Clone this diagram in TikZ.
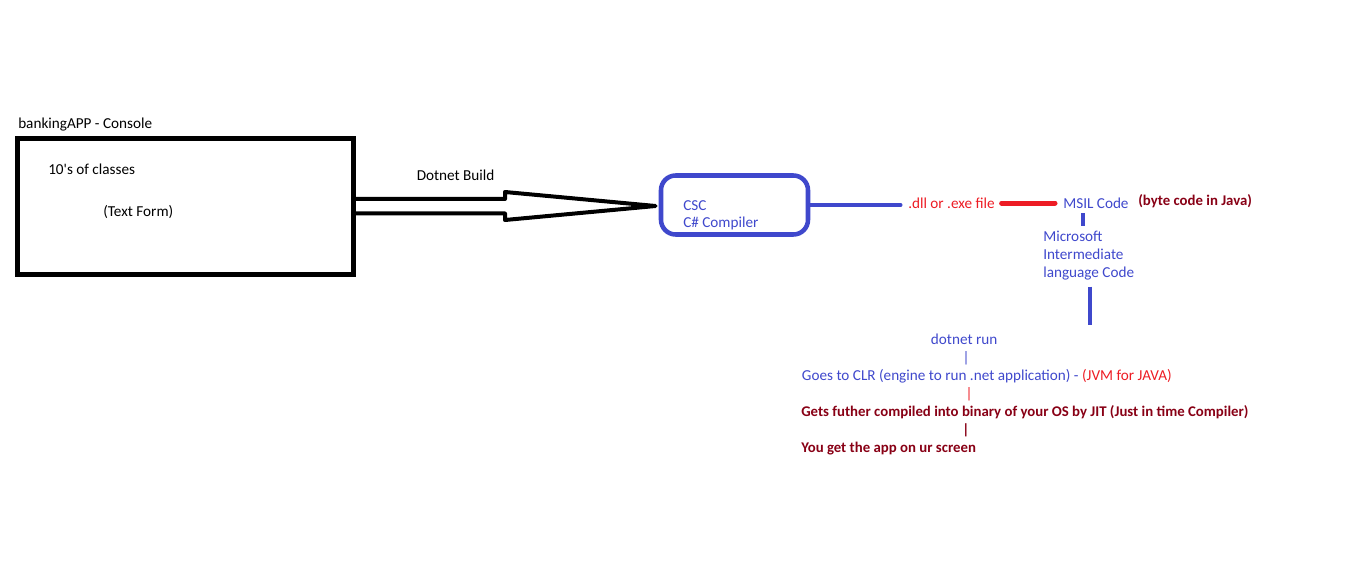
\documentclass[tikz,border=0pt]{standalone}
\usepackage{fontspec}
\setmainfont{Carlito}[Ligatures=TeXOff]
\usepackage{tikz}
\definecolor{paintblue}{HTML}{3F48CC}
\definecolor{paintred}{HTML}{ED1C24}
\definecolor{paintdark}{HTML}{880015}

\begin{document}
\begin{tikzpicture}[x=0.75pt,y=-0.75pt,
		txt/.style={inner sep=0pt,anchor=base west,font=\fontsize{11.4}{13.5}\selectfont},
		bluetxt/.style={txt,text=paintblue},
		redtxt/.style={txt,text=paintred},
		darktxt/.style={txt,text=paintdark,font=\fontsize{11.1}{13.5}\selectfont\bfseries},
		pipe/.style={anchor=base},
		wire/.style={line width=3.4pt,line cap=round,paintblue}]
	\useasboundingbox (0,0) rectangle (1360,563);
	% source project
	\node[txt] (title) at (18,128.3) {bankingAPP - Console};
	\node (app) [draw,line width=3.4pt,inner sep=0pt,minimum width=252pt,minimum height=102pt] at (185.5,206.5) {};
	\node[txt] (classes) at (48,175) {10's of classes};
	\node[txt] (textform) at (103,216) {(Text Form)};
	% compiler
	\node (csc) [draw=paintblue,line width=3.4pt,rounded corners=11pt,inner sep=0pt,minimum width=110.25pt,minimum height=44.25pt] at (734.5,205) {};
	\node[bluetxt] (csc1) at (683,210) {CSC};
	\node[bluetxt] (csc2) at (683,228) {C\# Compiler};
	\node[txt] (build) at (416.5,180.5) {Dotnet Build};
	\draw[line width=3pt,line join=round] (app.east |- 0,199) -- (505,199) -- (505,192) -- (655.5,206)
		-- (505,220) -- (505,213.5) -- (app.east |- 0,213.5);
	% output
	\node[redtxt] (dll) at (908,208.3) {.dll or .exe file};
	\node[bluetxt] (msil) at (1063,209) {MSIL Code};
	\node[darktxt] (java) at (1138,205.7) {(byte code in Java)};
	\node[bluetxt] (mic1) at (1043,241) {Microsoft};
	\node[bluetxt] (mic2) at (1043,259) {Intermediate};
	\node[bluetxt] (mic3) at (1043,277) {language Code};
	\coordinate (drop) at (1090,325);
	\draw[wire,shorten >=5.8pt] (csc.east) -- (csc.east -| dll.west);
	\draw[wire,paintred,line width=3.75pt,shorten <=5pt,shorten >=6pt] (dll.east) -- (dll.east -| msil.west);
	\draw[wire,line cap=butt] ([xshift=15pt,yshift=-3pt]msil.south west) -- ([xshift=30pt,yshift=3.5pt]mic1.north west);
	\draw[wire,line cap=butt,shorten <=5pt] (mic3.south west -| drop) -- (drop);
	% run chain
	\node[bluetxt] (run) at (930.7,344) {dotnet run};
	\node[bluetxt,pipe] (bar1) at (966,362) {|};
	\node[bluetxt] (clr) at (801.7,380) {Goes to CLR (engine to run .net application) - \textcolor{paintred}{(JVM for JAVA)}};
	\node[redtxt,pipe] (bar2) at (969,398) {|};
	\node[darktxt] (jit) at (801,416) {Gets futher compiled into binary of your OS by JIT (Just in time Compiler)};
	\node[darktxt,pipe] (bar3) at (966,434) {|};
	\node[darktxt] (screen) at (801,452) {You get the app on ur screen};
\end{tikzpicture}
\end{document}
